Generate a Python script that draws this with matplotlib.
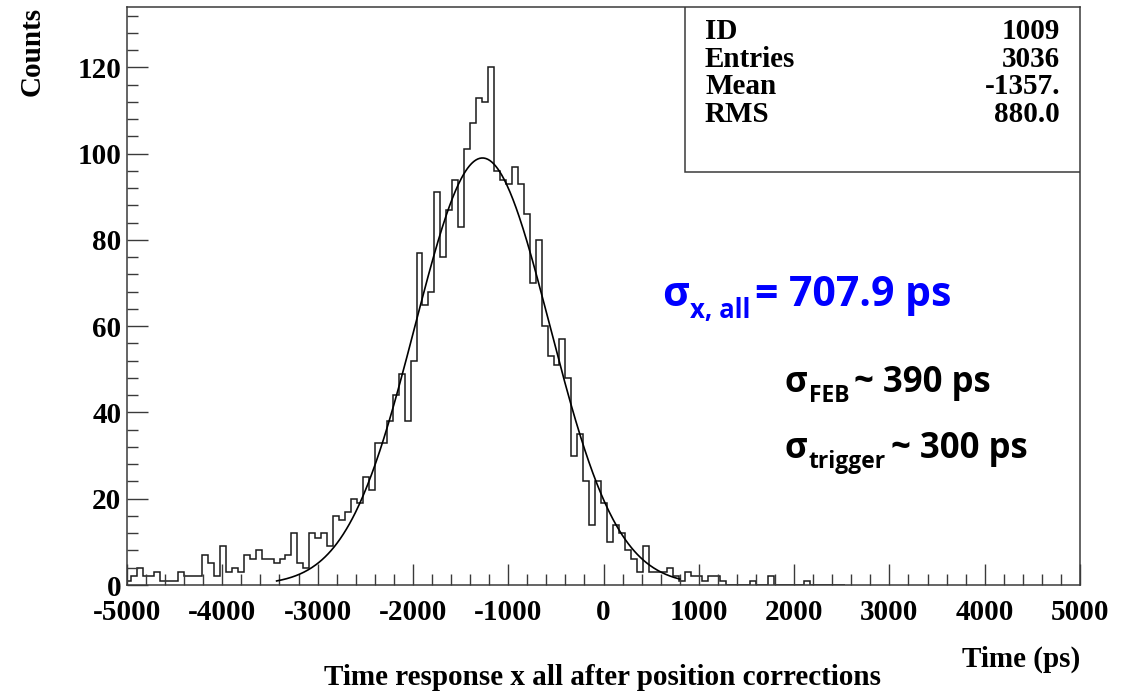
import numpy as np
import matplotlib
matplotlib.use("Agg")
import matplotlib.pyplot as plt
from matplotlib.ticker import MultipleLocator, FixedLocator
from matplotlib.patches import Rectangle

plt.rcParams["axes.unicode_minus"] = False

# ---- histogram contents (62.5 ps bins; first bin begins just below -5000 ps)
bin_start = -5024.5
bin_width = 62.5
counts = [
    1,
    2, 4, 2, 2, 3, 1, 1, 1, 3, 2,
    2, 2, 7, 5, 2, 9, 3, 4, 3, 7,
    6, 8, 6, 6, 5, 6, 7, 12, 5, 4,
    12, 11, 12, 9, 16, 15, 17, 20, 19, 25,
    22, 33, 33, 38, 44, 49, 38, 52, 77, 65,
    68, 91, 76, 87, 94, 83, 101, 107, 113, 112,
    120, 96, 94, 93, 97, 93, 86, 70, 80, 60,
    53, 51, 57, 48, 30, 35, 24, 14, 24, 19,
    10, 14, 12, 8, 6, 3, 9, 3, 3, 3,
    4, 2, 1, 3, 2, 2, 1, 2, 2, 1,
    0, 0, 0, 0, 1, 0, 0, 2, 0, 0,
    0, 0, 0, 1, 0, 0, 0, 0, 0, 0,
]

# ---- gaussian fit
fit_amplitude = 99.0
fit_mean = -1270.0
fit_sigma = 707.9
fit_lo, fit_hi = -3430.0, 800.0

# ---- statistics box
stats_labels = ["ID", "Entries", "Mean", "RMS"]
stats_values = ["1009", "3036", "-1357.", "880.0"]

x_ticks = [-5000, -4000, -3000, -2000, -1000, 0, 1000, 2000, 3000, 4000, 5000]
y_ticks = [0, 20, 40, 60, 80, 100, 120]
x_limits = (-5000, 5000)
y_limits = (0, 134)

W, H = 1138, 692
fig = plt.figure(figsize=(W / 100, H / 100), dpi=100)
fig.patch.set_facecolor("white")

# frame in pixel units: left 127, right 1080, top 7, bottom 585
L, R, T, B = 127, 1080, 7, 585
ax = fig.add_axes([L / W, 1 - B / H, (R - L) / W, (B - T) / H])
ax.set_xlim(*x_limits)
ax.set_ylim(*y_limits)

serif = "Liberation Serif"
fsz = 21
frame_col = "#3a3a3a"
for sp in ax.spines.values():
    sp.set_color(frame_col)
    sp.set_linewidth(1.1)

edges = bin_start + bin_width * np.arange(len(counts) + 1)
ax.stairs(counts, edges, color="#1a1a1a", linewidth=1.1, baseline=0)

xf = np.linspace(fit_lo, fit_hi, 400)
yf = fit_amplitude * np.exp(-0.5 * ((xf - fit_mean) / fit_sigma) ** 2)
ax.plot(xf, yf, color="black", linewidth=1.2)

# ticks: inward, bottom and left only
ax.xaxis.set_major_locator(FixedLocator(x_ticks))
ax.xaxis.set_minor_locator(MultipleLocator(200))
ax.yaxis.set_major_locator(FixedLocator(y_ticks))
ax.yaxis.set_minor_locator(MultipleLocator(4))
ax.tick_params(axis="x", which="major", direction="in", length=15, width=1.0,
               color=frame_col, pad=10)
ax.tick_params(axis="x", which="minor", direction="in", length=8, width=1.0,
               color=frame_col)
ax.tick_params(axis="y", which="major", direction="in", length=15, width=1.0,
               color=frame_col, pad=4)
ax.tick_params(axis="y", which="minor", direction="in", length=8, width=1.0,
               color=frame_col)
ax.tick_params(top=False, right=False, which="both")
for lab in ax.get_xticklabels() + ax.get_yticklabels():
    lab.set_fontfamily(serif)
    lab.set_fontweight("bold")
    lab.set_fontsize(fsz)


def fx(px):
    return px / W


def fy(py):
    return 1 - py / H


def ax_x(px):
    return (px - L) / (R - L)


def ax_y(py):
    return (B - py) / (B - T)


# statistics box
ax.add_patch(Rectangle((ax_x(685), ax_y(172)), 1 - ax_x(685), ax_y(T) - ax_y(172),
                       transform=ax.transAxes, facecolor="white",
                       edgecolor=frame_col, linewidth=1.1, zorder=5))
for i, (lab, val) in enumerate(zip(stats_labels, stats_values)):
    base = 39 + i * 27.7
    ax.text(ax_x(705), ax_y(base), lab, transform=ax.transAxes, ha="left",
            va="baseline", fontfamily=serif, fontweight="bold", fontsize=fsz,
            zorder=6)
    ax.text(ax_x(1060), ax_y(base), val, transform=ax.transAxes, ha="right",
            va="baseline", fontfamily=serif, fontweight="bold", fontsize=fsz,
            zorder=6)

# axis titles
fig.text(fx(1080), fy(667), "Time (ps)", ha="right", va="baseline",
         fontfamily=serif, fontweight="bold", fontsize=fsz)
fig.text(fx(603), fy(685), "Time response x all after position corrections",
         ha="center", va="baseline", fontfamily=serif, fontweight="bold",
         fontsize=fsz)
fig.text(fx(32), fy(7), "Counts", ha="center", va="top", rotation=90,
         fontfamily=serif, fontweight="bold", fontsize=fsz)

# resolution annotations built from runs of text with subscripts
sans = ["Open Sans", "DejaVu Sans"]
renderer = fig.canvas.get_renderer()


def draw_runs(x0, base, runs, color):
    x = x0
    for text, size, drop, gap in runs:
        t = fig.text(fx(x), fy(base + drop), text, ha="left", va="baseline",
                     fontfamily=sans, fontweight="bold", fontsize=size,
                     color=color)
        x += t.get_window_extent(renderer).width + gap


draw_runs(662, 306, [("σ", 29.5, 0, 1), ("x, all", 18.5, 12, 5),
                     ("= 707.9 ps", 29.5, 0, 0)], "#0000ff")
draw_runs(785, 392, [("σ", 25, 0, 1), ("FEB", 16.5, 10, 5),
                     ("~ 390 ps", 25, 0, 0)], "black")
draw_runs(785, 458, [("σ", 25, 0, 1), ("trigger", 16.5, 10, 5),
                     ("~ 300 ps", 25, 0, 0)], "black")

fig.savefig("out.png", dpi=100)
